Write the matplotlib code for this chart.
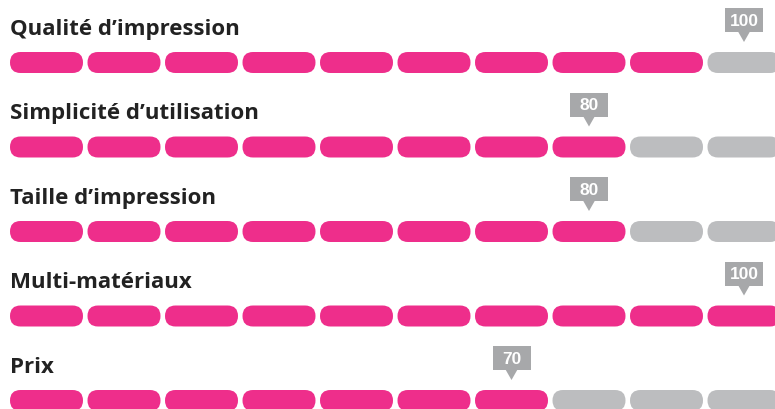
import matplotlib
matplotlib.use("Agg")
import matplotlib.pyplot as plt
from matplotlib.patches import FancyBboxPatch, Polygon

# data
criteria = ["Qualité d’impression", "Simplicité d’utilisation",
            "Taille d’impression", "Multi-matériaux", "Prix"]
filled = [9, 8, 8, 10, 7]
scores = [100, 80, 80, 100, 70]
n_segments = 10

pink = "#ee2e8b"
grey = "#bcbdbf"
badge_grey = "#a7a8aa"

fig = plt.figure(figsize=(7.75, 4.10), dpi=100)
ax = fig.add_axes([0, 0, 1, 1])
ax.set_xlim(0, 775)
ax.set_ylim(410, 0)
ax.axis("off")

x0 = 10
pitch = 77.5
seg_w = 73
seg_h = 21
row0 = 53
row_gap = 84.5

for i, (name, n_fill, score) in enumerate(zip(criteria, filled, scores)):
    top = row0 + i * row_gap
    # title
    ax.text(x0, top - 18, name, fontsize=16, fontweight="bold",
            family="Open Sans", color="#222222", va="baseline", ha="left")
    # pill segments
    for k in range(n_segments):
        color = pink if k < n_fill else grey
        box = FancyBboxPatch((x0 + k * pitch, top), seg_w, seg_h,
                             boxstyle="round,pad=0,rounding_size=10.5",
                             fc=color, ec="none")
        ax.add_patch(box)
    # score badge
    cx = x0 + (score / 10 - 1) * pitch + seg_w / 2
    b_bottom = top - 20
    b_h = 24
    b_w = 38
    ax.add_patch(plt.Rectangle((cx - b_w / 2, b_bottom - b_h), b_w, b_h,
                               fc=badge_grey, ec="none"))
    ax.add_patch(Polygon([(cx - 6, b_bottom - 0.5), (cx + 6, b_bottom - 0.5),
                          (cx, b_bottom + 10)], closed=True,
                         fc=badge_grey, ec="none"))
    ax.text(cx, b_bottom - b_h / 2 + 0.5, str(score), fontsize=12.5,
            fontweight="bold", family="Liberation Sans", color="white",
            ha="center", va="center")

plt.savefig("out.png", dpi=100)
